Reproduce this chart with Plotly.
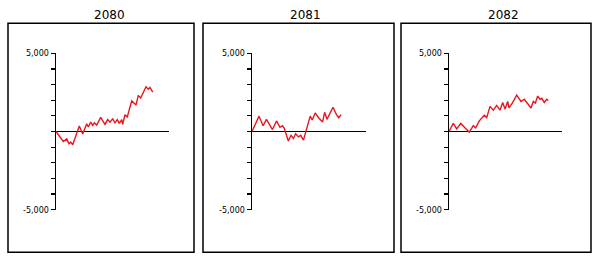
import plotly.graph_objects as go

W, H = 598, 263

years = ["2080", "2081", "2082"]

x_2080 = [0, 7.3, 10.7, 13, 14.7, 16.7, 23.3, 26.7, 30.7, 32.3, 34.7, 36.7, 38.3, 40.7, 44.7, 49,
          51.7, 54, 56.7, 59, 61.3, 63.3, 65.7, 66.7, 69, 71.3, 75.7, 80, 82.3, 84.7, 90, 92.3, 94, 96.7]
y_2080 = [0, -639, -474, -783, -680, -845, 350, -165, 494, 288, 597, 391, 556, 412, 906, 453,
          762, 597, 803, 556, 762, 515, 762, 453, 1071, 927, 1957, 1689, 2307, 2142, 2863, 2699, 2822, 2513]

x_2081 = [0, 7, 11, 14.3, 20.3, 24.3, 27.7, 30.3, 32, 36, 38.7, 41, 43.3, 46, 48.3, 51,
          57.7, 59.7, 62.7, 66, 70, 72, 74.3, 77, 80.3, 83.7, 86, 88.3]
y_2081 = [0, 980, 367, 776, 122, 673, 265, 367, 204, -612, -245, -449, -143, -347, -245, -551,
          980, 735, 1184, 878, 612, 1224, 776, 1082, 1551, 1082, 878, 1082]

x_2082 = [0, 4.3, 7.7, 11.7, 20.3, 24.3, 26.7, 30.3, 35.3, 37.7, 41, 44.3, 47.7, 51, 53.7, 56,
          58.7, 60, 63.3, 67.7, 72, 75.3, 82, 84.3, 86.3, 88.7, 91, 92.7, 95.3, 97.7, 99.3]
y_2082 = [0, 515, 165, 515, -41, 371, 227, 680, 1030, 886, 1607, 1360, 1669, 1360, 1854, 1442,
          1916, 1504, 1813, 2328, 1916, 2060, 1504, 1916, 1813, 2266, 2060, 2122, 1854, 2060, 1978]

series_x = [x_2080, x_2081, x_2082]
series_y = [y_2080, y_2081, y_2082]

y_tick_vals = [-5000, -4000, -3000, -2000, -1000, 0, 1000, 2000, 3000, 4000, 5000]
y_tick_text = ["-5,000", "", "", "", "", "", "", "", "", "", "5,000"]
x_range = [0, 113]

# layout geometry (pixels)
plot_x = [(56, 169), (252, 366), (449, 562)]
box_x = [(8, 194), (203, 394), (401, 591)]
title_cx = [109, 305.5, 503]
plot_top, plot_bot = 51, 213
box_top, box_bot = 20, 257

fig = go.Figure()
shapes = []
annotations = []
for i in range(3):
    xa = "x" if i == 0 else f"x{i+1}"
    ya = "y" if i == 0 else f"y{i+1}"
    fig.add_trace(go.Scatter(x=series_x[i], y=series_y[i], mode="lines",
                             line=dict(color="rgb(232,22,30)", width=1.4),
                             xaxis=xa, yaxis=ya, showlegend=False, hoverinfo="skip"))
    xl = "xaxis" if i == 0 else f"xaxis{i+1}"
    yl = "yaxis" if i == 0 else f"yaxis{i+1}"
    fig.update_layout({
        xl: dict(domain=[plot_x[i][0] / W, plot_x[i][1] / W], range=x_range,
                 showgrid=False, zeroline=False, showline=False, showticklabels=False,
                 ticks="", anchor=ya, fixedrange=True),
        yl: dict(domain=[(H - plot_bot) / H, (H - plot_top) / H], range=[-5000, 5000],
                 showgrid=False, zeroline=True, zerolinecolor="black", zerolinewidth=1.5,
                 showline=True, linecolor="black", linewidth=1.5,
                 ticks="outside", ticklen=4, tickwidth=1.2, tickcolor="black",
                 tickvals=y_tick_vals, ticktext=y_tick_text,
                 tickfont=dict(family="DejaVu Sans", size=8, color="black"),
                 anchor=xa, fixedrange=True),
    })
    shapes.append(dict(type="rect", xref="paper", yref="paper",
                       x0=box_x[i][0] / W, x1=box_x[i][1] / W,
                       y0=(H - box_bot) / H, y1=(H - box_top) / H,
                       line=dict(color="black", width=1.5), fillcolor="rgba(0,0,0,0)"))
    annotations.append(dict(text=years[i], xref="paper", yref="paper",
                            x=title_cx[i] / W, y=(H - 11) / H, xanchor="center", yanchor="middle",
                            showarrow=False,
                            font=dict(family="DejaVu Sans", size=12, color="black")))

fig.update_layout(width=W, height=H, margin=dict(l=0, r=0, t=0, b=0),
                  paper_bgcolor="white", plot_bgcolor="white",
                  shapes=shapes, annotations=annotations, hovermode=False)

fig.write_html("out.html", config={"displayModeBar": False, "staticPlot": True})
